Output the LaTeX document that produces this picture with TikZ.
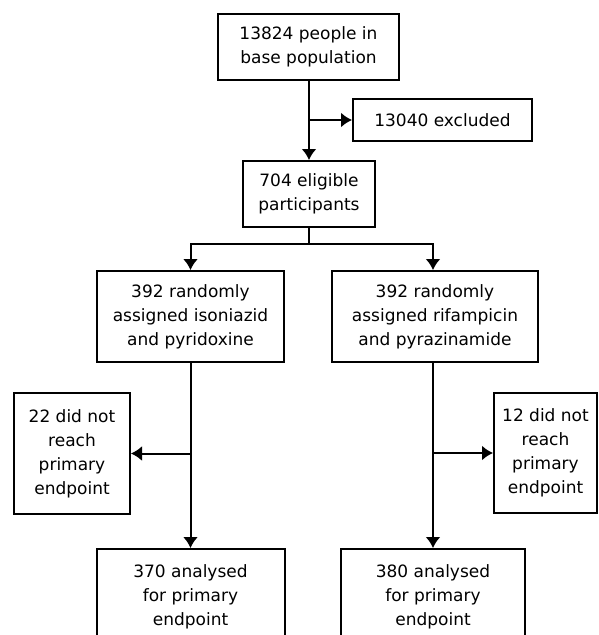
\documentclass[tikz,border=0pt]{standalone}
\usepackage{fontspec}
\setmainfont{DejaVu Sans}
\usetikzlibrary{arrows.meta}
\begin{document}
\begin{tikzpicture}[x=1pt,y=-1pt,
  box/.style={draw=black, line width=2pt, fill=white, align=center, inner sep=0pt,
    font=\fontsize{17}{24}\selectfont},
  conn/.style={line width=2pt, draw=black},
  arr/.style={conn, -{Latex[width=15pt,length=11pt]}}]
\useasboundingbox (0,0) rectangle (598,635);
\clip (0,0) rectangle (598,635);
\node[box, minimum width=181pt, minimum height=66pt] (b1) at (308.5,47) {13824 people in\\base population};
\node[box, minimum width=179pt, minimum height=42pt] (ex) at (442.5,120) {13040 excluded};
\node[box, minimum width=132pt, minimum height=66pt] (b2) at (309,194) {704 eligible\\participants};
\node[box, minimum width=187pt, minimum height=91pt] (L) at (190.5,316.5) {392 randomly\\assigned isoniazid\\and pyridoxine};
\node[box, minimum width=206pt, minimum height=91pt] (R) at (435,316.5) {392 randomly\\assigned rifampicin\\and pyrazinamide};
\node[box, minimum width=116pt, minimum height=121pt] (dL) at (72,453.5) {22 did not\\reach\\primary\\endpoint};
\node[box, minimum width=103pt, minimum height=120pt] (dR) at (545.5,453) {12 did not\\reach\\primary\\endpoint};
\node[box, minimum width=188pt, minimum height=95pt, anchor=north] (aL) at (190.5,548) {370 analysed\\for primary\\endpoint};
\node[box, minimum width=184pt, minimum height=95pt, anchor=north] (aR) at (433,548) {380 analysed\\for primary\\endpoint};
% connectors
\draw[arr] (b1.south -| b2.north) -- (b2.north);
\coordinate (exj) at (b2.north |- ex.west);
\draw[arr] (exj) -- (ex.west);
\coordinate (split) at (309,244);
\draw[conn] (b2.south) -- (split);
\draw[arr] (split) -| (L.north);
\draw[arr] (split) -| (R.north -| aR.north);
\draw[arr] (L.south) -- (aL.north);
\draw[arr] (L.south |- dL.east) -- (dL.east);
\draw[arr] (R.south -| aR.north) -- (aR.north);
\draw[arr] (aR.north |- dR.west) -- (dR.west);
\end{tikzpicture}
\end{document}
